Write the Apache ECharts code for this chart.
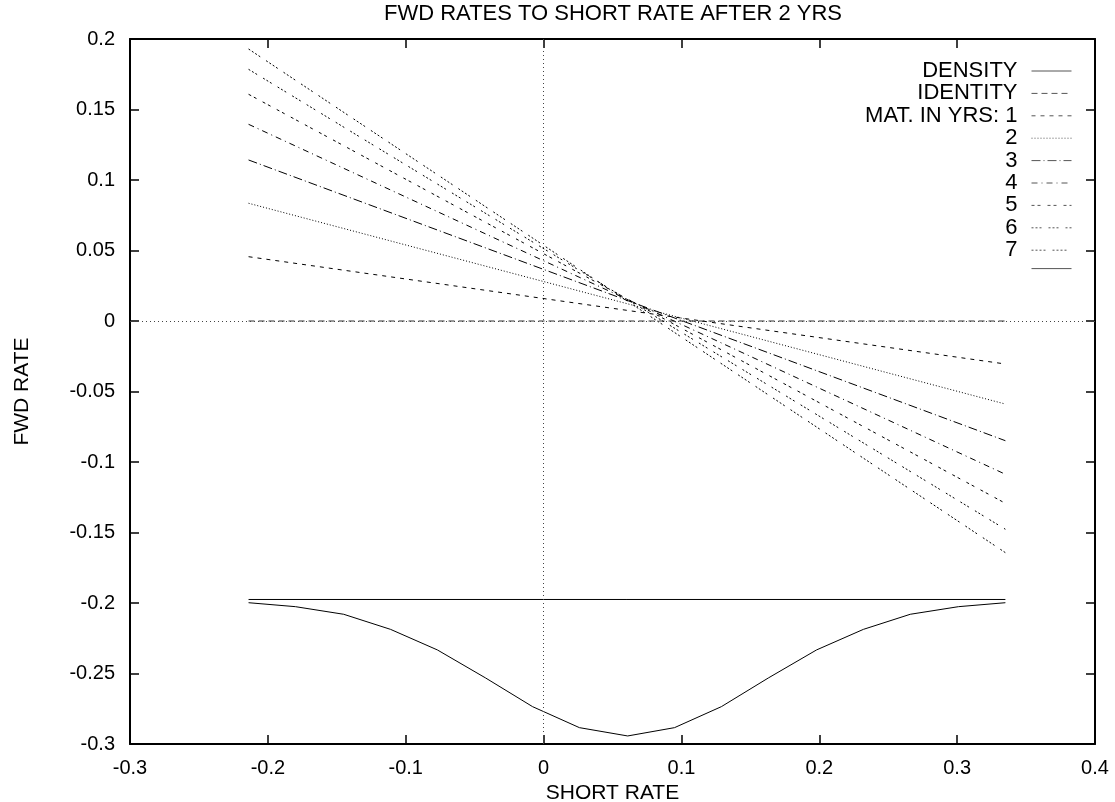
<!DOCTYPE html>
<html>
<head>
<meta charset="utf-8">
<title>FWD RATES TO SHORT RATE AFTER 2 YRS</title>
<script src="https://cdn.jsdelivr.net/npm/echarts@6/dist/echarts.min.js"></script>
<style>
  html, body { margin: 0; padding: 0; background: #fff; }
  #chart { width: 1115px; height: 802px; }
</style>
</head>
<body>
<div id="chart"></div>
<script>
// Short-rate grid on which the density is evaluated
const shortRates = [-0.214, -0.180, -0.145, -0.111, -0.077, -0.042, -0.008, 0.026, 0.061,
                    0.095, 0.129, 0.163, 0.198, 0.232, 0.266, 0.301, 0.335];
// Density of the short rate after 2 years (drawn hanging below the baseline)
const densityValues = [-0.1998, -0.2026, -0.2080, -0.2187, -0.2333, -0.2532, -0.2735, -0.2884, -0.2943,
                       -0.2884, -0.2735, -0.2532, -0.2333, -0.2187, -0.2080, -0.2026, -0.1998];
const densityBaseline = -0.1975;
// End points of the short-rate range used for the forward-rate lines
const rangeEnds = [-0.214, 0.335];
const identityValues = [0, 0];
// Forward rate at each end of the range, by maturity in years
const maturities = ['1', '2', '3', '4', '5', '6', '7'];
const fwdAtEnds = [
  [0.0456, -0.0305],
  [0.0835, -0.0589],
  [0.1142, -0.0849],
  [0.1395, -0.1087],
  [0.1608, -0.1293],
  [0.1785, -0.1477],
  [0.1929, -0.1643]
];
// Axis tick settings
const xTicks = { min: -0.3, max: 0.4, interval: 0.1 };
const yTicks = { min: -0.3, max: 0.2, interval: 0.05 };

const FONT = 'Liberation Sans, Arial, Helvetica, sans-serif';
const dashPatterns = [
  [4, 5],
  [1, 2],
  [9, 3, 1, 3],
  [6, 4, 1, 4],
  [3, 3, 3, 7],
  [2, 2, 2, 2, 2, 7],
  [2, 2, 2, 2, 2, 2, 2, 7]
];

function pairs(xs, ys) { return xs.map((x, i) => [x, ys[i]]); }

const series = [];
series.push({
  name: 'DENSITY', type: 'line', symbol: 'none', silent: true,
  data: pairs(shortRates, densityValues),
  lineStyle: { color: '#000', width: 1, type: 'solid' }
});
series.push({
  name: 'IDENTITY', type: 'line', symbol: 'none', silent: true,
  data: pairs(rangeEnds, identityValues),
  lineStyle: { color: '#333', width: 1, type: [6, 4] },
  markLine: {
    silent: true, symbol: 'none', label: { show: false },
    lineStyle: { color: '#444', width: 1, type: [1, 3] },
    data: [{ xAxis: 0 }, { yAxis: 0 }]
  },
  z: 1
});
maturities.forEach((m, k) => {
  series.push({
    name: k === 0 ? 'MAT. IN YRS: ' + m : m,
    type: 'line', symbol: 'none', silent: true,
    data: pairs(rangeEnds, fwdAtEnds[k]),
    lineStyle: { color: '#000', width: 1, type: dashPatterns[k] }
  });
});
series.push({
  name: 'baseline', type: 'line', symbol: 'none', silent: true,
  data: pairs(rangeEnds, [densityBaseline, densityBaseline]),
  lineStyle: { color: '#000', width: 1, type: 'solid' }
});

const axisCommon = {
  axisLine: { show: true, onZero: false, lineStyle: { color: '#000', width: 2 } },
  axisTick: { show: true, inside: true, length: 9, lineStyle: { color: '#000', width: 1.5 } },
  splitLine: { show: false }
};

const chart = echarts.init(document.getElementById('chart'), null, { renderer: 'canvas' });
chart.setOption({
  animation: false,
  backgroundColor: '#fff',
  textStyle: { fontFamily: FONT },
  title: {
    text: 'FWD RATES TO SHORT RATE AFTER 2 YRS',
    left: 613, top: 3, textAlign: 'center', padding: 0,
    textStyle: { fontFamily: FONT, fontSize: 22, fontWeight: 'normal', color: '#000' }
  },
  grid: { left: 130, right: 20, top: 39, bottom: 58, containLabel: false, outerBoundsMode: 'none' },
  legend: {
    orient: 'vertical', align: 'right', right: 43, top: 60, padding: 0,
    itemWidth: 40, itemHeight: 14, itemGap: 0.4,
    selectedMode: false,
    formatter: name => (name === 'baseline' ? '' : name),
    itemStyle: { color: 'rgba(0,0,0,0)', borderWidth: 0 },
    lineStyle: { width: 1, color: '#555' },
    textStyle: { fontFamily: FONT, fontSize: 22, color: '#000', padding: [0, 9, 0, 0] },
    data: series.map(s => s.name)
  },
  xAxis: [
    Object.assign({
      type: 'value', position: 'bottom', min: xTicks.min, max: xTicks.max, interval: xTicks.interval,
      name: 'SHORT RATE', nameLocation: 'middle', nameGap: 33,
      nameTextStyle: { fontFamily: FONT, fontSize: 21, color: '#000' },
      axisLabel: { show: true, margin: 14, fontFamily: FONT, fontSize: 20, color: '#000' }
    }, axisCommon),
    Object.assign({
      type: 'value', position: 'top', min: xTicks.min, max: xTicks.max, interval: xTicks.interval,
      axisLabel: { show: false }
    }, axisCommon)
  ],
  yAxis: [
    Object.assign({
      type: 'value', position: 'left', min: yTicks.min, max: yTicks.max, interval: yTicks.interval,
      name: 'FWD RATE', nameLocation: 'middle', nameGap: 97, nameRotate: 90,
      nameTextStyle: { fontFamily: FONT, fontSize: 21, color: '#000' },
      axisLabel: { show: true, margin: 15, fontFamily: FONT, fontSize: 20, color: '#000' }
    }, axisCommon),
    Object.assign({
      type: 'value', position: 'right', min: yTicks.min, max: yTicks.max, interval: yTicks.interval,
      axisLabel: { show: false }
    }, axisCommon)
  ],
  series: series
});
</script>
</body>
</html>
